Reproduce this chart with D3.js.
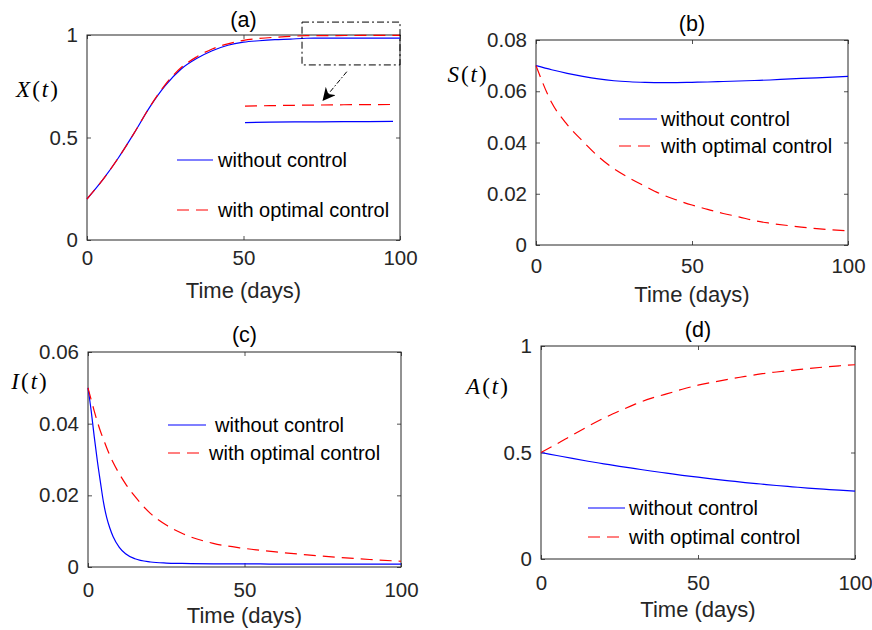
<!DOCTYPE html>
<html>
<head>
<meta charset="utf-8">
<script src="https://cdn.jsdelivr.net/npm/d3@7"></script>
<style>
  body { margin: 0; background: #fff; }
  svg { display: block; font-family: "Liberation Sans", Arial, sans-serif; }
</style>
</head>
<body>
<svg id="chart" width="872" height="630"></svg>
<script>
// time grids (days)
const days = [0, 5, 10, 15, 20, 25, 30, 35, 40, 45, 50, 55, 60, 65, 70, 75, 80, 85, 90, 95, 100];
const daysI = [0, 1, 2, 3, 4, 5, 6, 7, 8, 10, 12, 15, 20, 25, 30, 40, 50, 60, 70, 80, 90, 100];

// (a) X(t)
const xNoControl = [0.200, 0.293, 0.400, 0.520, 0.647, 0.753, 0.833, 0.885, 0.923, 0.950, 0.965, 0.972, 0.977, 0.980, 0.9841, 0.9844, 0.9846, 0.9847, 0.9848, 0.9849, 0.985];
const xOptimal   = [0.200, 0.293, 0.400, 0.520, 0.648, 0.758, 0.840, 0.893, 0.932, 0.957, 0.974, 0.983, 0.989, 0.993, 0.9968, 0.9971, 0.9974, 0.9976, 0.9978, 0.9979, 0.998];
// (b) S(t)
const sNoControl = [0.0700, 0.0684, 0.0670, 0.0658, 0.0648, 0.0641, 0.0637, 0.0635, 0.0634, 0.0634, 0.0635, 0.0636, 0.0638, 0.0640, 0.0642, 0.0644, 0.0647, 0.0650, 0.0652, 0.0655, 0.0658];
const sOptimal   = [0.0700, 0.0556, 0.0470, 0.0405, 0.0345, 0.0297, 0.0261, 0.0229, 0.0199, 0.0176, 0.0156, 0.0139, 0.0123, 0.0110, 0.0095, 0.0085, 0.0077, 0.0070, 0.0064, 0.0059, 0.0055];
// (c) I(t), on daysI
const iNoControl = [0.0500, 0.0437, 0.0363, 0.0295, 0.0235, 0.0178, 0.0137, 0.0108, 0.0085, 0.0055, 0.0037, 0.0023, 0.0014, 0.0011, 0.0010, 0.0009, 0.0009, 0.0008, 0.0008, 0.0008, 0.0008, 0.0008];
const iOptimal   = [0.0500, 0.0467, 0.0435, 0.0405, 0.0378, 0.0355, 0.0332, 0.0311, 0.0292, 0.0260, 0.0232, 0.0197, 0.0149, 0.0117, 0.0094, 0.0066, 0.0052, 0.0042, 0.0034, 0.0027, 0.0021, 0.0016];
// (d) A(t)
const aNoControl = [0.500, 0.486, 0.472, 0.459, 0.447, 0.435, 0.424, 0.413, 0.403, 0.393, 0.384, 0.375, 0.367, 0.359, 0.352, 0.345, 0.339, 0.333, 0.328, 0.323, 0.319];
const aOptimal   = [0.500, 0.540, 0.582, 0.623, 0.661, 0.695, 0.727, 0.754, 0.775, 0.797, 0.816, 0.831, 0.845, 0.857, 0.869, 0.878, 0.886, 0.894, 0.901, 0.907, 0.912];

const seriesNames = ["without control", "with optimal control"];
const timeTicks = [0, 50, 100];
const ticksX = [0, 0.5, 1];
const ticksS = [0, 0.02, 0.04, 0.06, 0.08];
const ticksI = [0, 0.02, 0.04, 0.06];
const ticksA = [0, 0.5, 1];

// zoom box in (a): time range and value range, plus the zoomed view's value window
const zoomDays = [68.7, 100];
const zoomValues = [0.854, 1.063];
const insetDays = [70, 100];
const insetValues = [0.98, 1.0];

const BLUE = "#0000ff", RED = "#ff0000", AXIS = "#262626";
const DASH = "12,7";
const TICK_FONT = "20.5px", LEGEND_FONT = "20px", LABEL_FONT = "22px", TITLE_FONT = "21.5px";

const svg = d3.select("#chart");

const panels = [
  { left: 87, right: 400, top: 35, bottom: 240, t: days, a: xNoControl, b: xOptimal,
    yDomain: [0, 1], yTicks: ticksX, title: "(a)", letter: "X", labelX: 38, labelY: 97,
    xTickBase: 25, xlabelBase: 298, titleBase: 27,
    legend: { x: 177, w1: 36, w2: 36, y1: 160, y2: 210, tx1: 218, tx2: 218 } },
  { left: 536, right: 848, top: 40, bottom: 245, t: days, a: sNoControl, b: sOptimal,
    yDomain: [0, 0.08], yTicks: ticksS, title: "(b)", letter: "S", labelX: 468, labelY: 82,
    xTickBase: 28, xlabelBase: 302, titleBase: 31,
    legend: { x: 619, w1: 38, w2: 38, y1: 119, y2: 146, tx1: 661, tx2: 661 } },
  { left: 88, right: 401, top: 352, bottom: 567, t: daysI, a: iNoControl, b: iOptimal,
    yDomain: [0, 0.06], yTicks: ticksI, title: "(c)", letter: "I", labelX: 30, labelY: 389,
    xTickBase: 30, xlabelBase: 623, titleBase: 342,
    legend: { x: 168, w1: 38, w2: 33, y1: 425, y2: 453, tx1: 215, tx2: 209 } },
  { left: 541, right: 855, top: 346, bottom: 559, t: days, a: aNoControl, b: aOptimal,
    yDomain: [0, 1], yTicks: ticksA, title: "(d)", letter: "A", labelX: 488, labelY: 394,
    xTickBase: 31, xlabelBase: 617, titleBase: 337,
    legend: { x: 588, w1: 37, w2: 37, y1: 508, y2: 537, tx1: 629, tx2: 629 } }
];

function drawPanel(p, idx) {
  const x = d3.scaleLinear().domain([0, 100]).range([p.left, p.right]);
  const y = d3.scaleLinear().domain(p.yDomain).range([p.bottom, p.top]);
  const g = svg.append("g");

  const line = d3.line().x(d => x(d[0])).y(d => y(d[1])).curve(d3.curveMonotoneX);
  const ptsA = p.t.map((t, i) => [t, p.a[i]]);
  const ptsB = p.t.map((t, i) => [t, p.b[i]]);

  // ticks + labels, MATLAB style: inward ticks on all four sides
  const styleTicks = sel => {
    sel.attr("font-family", null).attr("font-size", null);
    sel.select(".domain").remove();
    sel.selectAll("line").attr("stroke", AXIS).attr("stroke-width", 0.8);
    sel.selectAll("text").attr("fill", AXIS).style("font-size", TICK_FONT);
  };
  g.append("g").attr("transform", `translate(0,${p.bottom})`)
    .call(d3.axisBottom(x).tickValues(timeTicks).tickSize(-4).tickSizeOuter(0).tickPadding(p.xTickBase - 14.5))
    .call(styleTicks);
  g.append("g").attr("transform", `translate(0,${p.top})`)
    .call(d3.axisTop(x).tickValues(timeTicks).tickSize(-4).tickSizeOuter(0).tickFormat(""))
    .call(styleTicks);
  g.append("g").attr("transform", `translate(${p.left},0)`)
    .call(d3.axisLeft(y).tickValues(p.yTicks).tickSize(-4).tickSizeOuter(0).tickPadding(9).tickFormat(d3.format("~g")))
    .call(styleTicks);
  g.append("g").attr("transform", `translate(${p.right},0)`)
    .call(d3.axisRight(y).tickValues(p.yTicks).tickSize(-4).tickSizeOuter(0).tickFormat(""))
    .call(styleTicks);

  // box
  g.append("rect")
    .attr("x", p.left).attr("y", p.top)
    .attr("width", p.right - p.left).attr("height", p.bottom - p.top)
    .attr("fill", "none").attr("stroke", AXIS).attr("stroke-width", 1);

  // curves
  g.append("path").datum(ptsA).attr("d", line)
    .attr("fill", "none").attr("stroke", BLUE).attr("stroke-width", 1.2);
  g.append("path").datum(ptsB).attr("d", line)
    .attr("fill", "none").attr("stroke", RED).attr("stroke-width", 1.2)
    .attr("stroke-dasharray", DASH);

  // title + labels
  g.append("text").attr("x", (p.left + p.right) / 2).attr("y", p.titleBase)
    .attr("text-anchor", "middle").attr("fill", "#000").style("font-size", TITLE_FONT).text(p.title);
  g.append("text").attr("x", (p.left + p.right) / 2).attr("y", p.xlabelBase)
    .attr("text-anchor", "middle").attr("fill", AXIS).style("font-size", LABEL_FONT).text("Time (days)");

  const lab = g.append("text").attr("x", p.labelX).attr("y", p.labelY)
    .attr("text-anchor", "middle").attr("fill", "#000")
    .style("font-family", "'Liberation Serif', 'Times New Roman', serif")
    .style("font-size", "23px").style("letter-spacing", "2px");
  lab.append("tspan").style("font-style", "italic").text(p.letter);
  lab.append("tspan").text("(");
  lab.append("tspan").style("font-style", "italic").text("t");
  lab.append("tspan").text(")");

  // legend (no box)
  const L = p.legend;
  g.append("line").attr("x1", L.x).attr("x2", L.x + L.w1).attr("y1", L.y1).attr("y2", L.y1)
    .attr("stroke", BLUE).attr("stroke-width", 1.2);
  g.append("line").attr("x1", L.x).attr("x2", L.x + L.w2).attr("y1", L.y2).attr("y2", L.y2)
    .attr("stroke", RED).attr("stroke-width", 1.2).attr("stroke-dasharray", DASH);
  g.append("text").attr("x", L.tx1).attr("y", L.y1 + 7).attr("fill", "#000")
    .style("font-size", LEGEND_FONT).text(seriesNames[0]);
  g.append("text").attr("x", L.tx2).attr("y", L.y2 + 7).attr("fill", "#000")
    .style("font-size", LEGEND_FONT).text(seriesNames[1]);

  if (idx === 0) drawZoom(g, x, y, p);
}

function drawZoom(g, x, y, p) {
  // dash-dot rectangle over the plateau
  g.append("rect")
    .attr("x", x(zoomDays[0])).attr("y", y(zoomValues[1]))
    .attr("width", x(zoomDays[1]) - x(zoomDays[0]))
    .attr("height", y(zoomValues[0]) - y(zoomValues[1]))
    .attr("fill", "none").attr("stroke", "#000").attr("stroke-width", 1)
    .attr("stroke-dasharray", "7,3,2,3");

  // arrow
  svg.append("defs").append("marker")
    .attr("id", "arrowhead").attr("viewBox", "0 0 10 10")
    .attr("refX", 9).attr("refY", 5)
    .attr("markerWidth", 13).attr("markerHeight", 13)
    .attr("markerUnits", "userSpaceOnUse")
    .attr("orient", "auto")
    .append("path").attr("d", "M0,0 L10,5 L0,10 L3,5 Z").attr("fill", "#000");
  g.append("line")
    .attr("x1", x(83)).attr("y1", y(0.821))
    .attr("x2", x(75.5)).attr("y2", y(0.683))
    .attr("stroke", "#000").attr("stroke-width", 1)
    .attr("stroke-dasharray", "5,2,1.5,2")
    .attr("marker-end", "url(#arrowhead)");

  // magnified view of the plateau
  const xi = d3.scaleLinear().domain(insetDays).range([245, 393]);
  const yi = d3.scaleLinear().domain(insetValues).range([127.9, 101.9]);
  const lineI = d3.line().x(d => xi(d[0])).y(d => yi(d[1])).curve(d3.curveMonotoneX);
  const keep = p.t.map((t, i) => i).filter(i => p.t[i] >= insetDays[0]);
  g.append("path").datum(keep.map(i => [p.t[i], p.a[i]])).attr("d", lineI)
    .attr("fill", "none").attr("stroke", BLUE).attr("stroke-width", 1.2);
  g.append("path").datum(keep.map(i => [p.t[i], p.b[i]])).attr("d", lineI)
    .attr("fill", "none").attr("stroke", RED).attr("stroke-width", 1.2)
    .attr("stroke-dasharray", DASH);
}

panels.forEach(drawPanel);
</script>
</body>
</html>
